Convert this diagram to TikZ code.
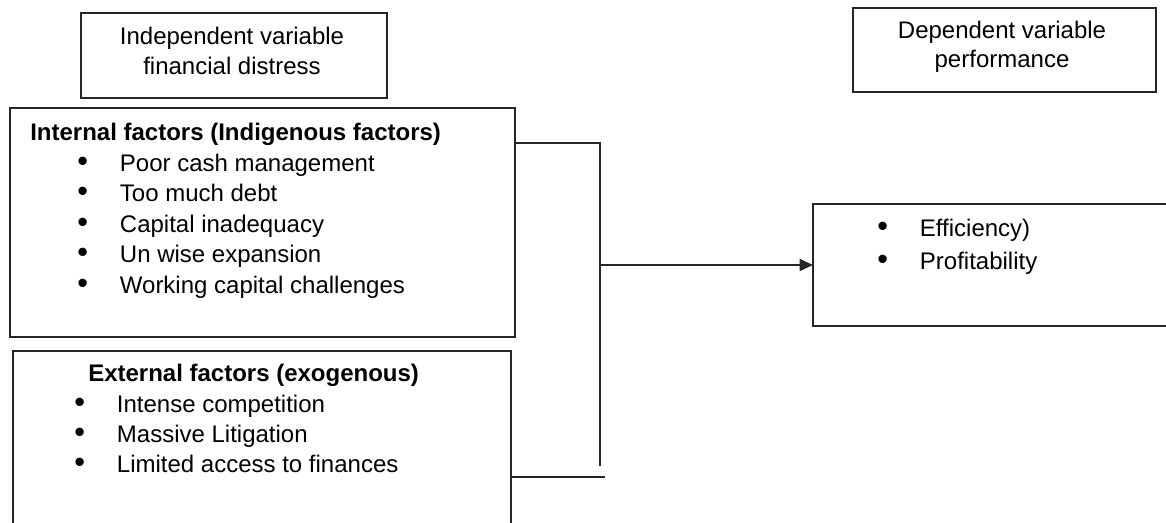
\documentclass[tikz,border=0pt]{standalone}
\usepackage{fontspec}
\setmainfont{Liberation Sans}
\usepackage{tikz}
\usetikzlibrary{positioning,arrows.meta,calc}
\definecolor{lineblack}{HTML}{262626}
\newcommand{\bulletgap}{\makebox[32pt][l]{\fontsize{23}{22}\selectfont\textbullet}}

\begin{document}
\begin{tikzpicture}[
  x=0.75pt, y=-0.75pt,
  font=\fontsize{18}{22}\selectfont,
  frame/.style={draw=lineblack, line width=1.1pt, inner sep=0pt, outer sep=0pt},
  caption/.style={align=center, inner sep=0pt},
  heading/.style={anchor=base west, inner sep=0pt, font=\fontsize{18}{22}\selectfont\bfseries},
  entry/.style={anchor=base west, inner sep=0pt},
  link/.style={draw=lineblack, line width=1.1pt},
  arr/.style={link, -{Triangle[length=10pt, width=9pt]}}
]
\clip (0,0) rectangle (1166,522);
% ---------- variable headers ----------
\node[frame, minimum width=229.5pt, minimum height=63.75pt] (indep) at (234,55.5) {};
\node[caption] (indeptxt) at (232,51) {Independent variable\\ financial distress};
\node[frame, minimum width=227.25pt, minimum height=63pt] (dep) at (1004.5,50) {};
\node[caption] (deptxt) at (1002,47) {Dependent variable\\ performance};

% ---------- internal factors ----------
\node[frame, minimum width=378.75pt, minimum height=171.75pt] (internal) at (262.5,222.5) {};
\node[heading] (inthead) at ($(internal.north west)+(20,32)$) {Internal factors (Indigenous factors)};
\node[entry] (int1) at ($(internal.north west)+(67,63)$) {\bulletgap Poor cash management};
\node[entry] (int2) at ($(internal.north west)+(67,93.5)$) {\bulletgap Too much debt};
\node[entry] (int3) at ($(internal.north west)+(67,124)$) {\bulletgap Capital inadequacy};
\node[entry] (int4) at ($(internal.north west)+(67,154.5)$) {\bulletgap Un wise expansion};
\node[entry] (int5) at ($(internal.north west)+(67,185)$) {\bulletgap Working capital challenges};

% ---------- external factors ----------
\node[frame, minimum width=373.5pt, minimum height=141.75pt] (external) at (262,445.5) {};
\node[heading] (exthead) at ($(external.north west)+(75,30)$) {External factors (exogenous)};
\node[entry] (ext1) at ($(external.north west)+(61,61)$) {\bulletgap Intense competition};
\node[entry] (ext2) at ($(external.north west)+(61,91)$) {\bulletgap Massive Litigation};
\node[entry] (ext3) at ($(external.north west)+(61,121)$) {\bulletgap Limited access to finances};

% ---------- performance ----------
\node[frame, minimum width=282.75pt, minimum height=91.5pt] (perf) at (1001.5,265) {};
\node[entry] (perf1) at ($(perf.north west)+(64,32)$) {\bulletgap Efficiency)};
\node[entry] (perf2) at ($(perf.north west)+(64,65)$) {\bulletgap Profitability};

% ---------- connectors ----------
\coordinate (jtop) at ($(internal.north east)+(85,35)$);
\coordinate (jbot) at ($(external.east |- jtop)+(94,334)$);
\draw[link] (internal.east |- jtop) -- (jtop) -- ++(0,323);
\draw[link] (external.east |- jbot) -- (jbot);
\draw[arr] (jtop |- perf.west) -- (perf.west);
\end{tikzpicture}
\end{document}
